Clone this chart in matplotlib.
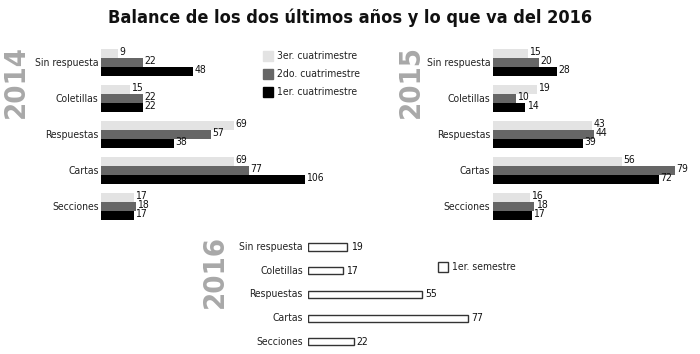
import matplotlib.pyplot as plt

plt.rcParams['font.family'] = 'DejaVu Sans'
plt.rcParams['font.stretch'] = 'condensed'

categorias = ["Sin respuesta", "Coletillas", "Respuestas", "Cartas", "Secciones"]
series = ["3er. cuatrimestre", "2do. cuatrimestre", "1er. cuatrimestre"]
colores = ["#e3e3e3", "#666666", "#000000"]

# 2014: 3er, 2do, 1er
v2014_3 = [9, 15, 69, 69, 17]
v2014_2 = [22, 22, 57, 77, 18]
v2014_1 = [48, 22, 38, 106, 17]

# 2015
v2015_3 = [15, 19, 43, 56, 16]
v2015_2 = [20, 10, 44, 79, 18]
v2015_1 = [28, 14, 39, 72, 17]

# 2016
v2016 = [19, 17, 55, 77, 22]

W, H = 700, 354
fig = plt.figure(figsize=(W / 100, H / 100), dpi=100)

FS = 7.5


def caja(l, t, w, h):
    # pixeles -> fraccion de figura
    return [l / W, 1 - (t + h) / H, w / W, h / H]


def anio_txt(x, y, s):
    fig.text(x / W, 1 - y / H, s, rotation=90, ha='center', va='center',
             fontsize=21, fontweight='bold', color='#a8a8a8')


def panel_cuatrimestres(x0, escala, xmax, datos, anio, x_anio):
    pitch = 36.0
    ymin, ymax = -0.6, 4.6
    top = 62.5 + ymin * pitch
    ax = fig.add_axes(caja(x0, top, xmax * escala, (ymax - ymin) * pitch))
    ax.set_xlim(0, xmax)
    ax.set_ylim(ymax, ymin)
    h = 0.25
    for k, vals in enumerate(datos):
        ys = [i + (k - 1) * h for i in range(len(vals))]
        ax.barh(ys, vals, height=h, color=colores[k], edgecolor='none')
        for y, v in zip(ys, vals):
            ax.text(v + 0.6, y - 0.04, str(v), va='center', ha='left',
                    fontsize=FS, color='#111111')
    for i, c in enumerate(categorias):
        ax.text(-1.2, i, c, ha='right', va='center', fontsize=FS,
                color='#222222')
    ax.axis('off')
    anio_txt(x_anio, 81, anio)
    return ax


panel_cuatrimestres(101, 1.925, 115, [v2014_3, v2014_2, v2014_1], "2014", 16)
panel_cuatrimestres(493, 2.30, 90, [v2015_3, v2015_2, v2015_1], "2015", 411)

# 2016
pitch = 23.7
ymin, ymax = -0.6, 4.6
top = 247 + ymin * pitch
esc = 2.078
ax3 = fig.add_axes(caja(308, top, 100 * esc, (ymax - ymin) * pitch))
ax3.set_xlim(0, 100)
ax3.set_ylim(ymax, ymin)
ax3.barh(range(5), v2016, height=0.3, color='white', edgecolor='#333333',
         linewidth=1.0)
for i, v in enumerate(v2016):
    ax3.text(v + 1.5, i, str(v), va='center', ha='left', fontsize=FS,
             color='#111111')
    ax3.text(-2.5, i, categorias[i], ha='right', va='center', fontsize=FS,
             color='#222222')
ax3.axis('off')
anio_txt(215, 272, "2016")

# leyendas
for k, s in enumerate(series):
    y = 56 + 18 * k
    fig.patches.append(plt.Rectangle((263 / W, 1 - (y + 5) / H), 10 / W, 10 / H,
                                     transform=fig.transFigure,
                                     color=colores[k]))
    fig.text(277 / W, 1 - y / H, s, ha='left', va='center', fontsize=FS,
             color='#222222')

fig.patches.append(plt.Rectangle((438 / W, 1 - 272 / H), 10 / W, 10 / H,
                                 transform=fig.transFigure, facecolor='white',
                                 edgecolor='#333333', linewidth=1.0))
fig.text(452 / W, 1 - 267 / H, "1er. semestre", ha='left', va='center',
         fontsize=FS, color='#222222')

fig.text(0.5, 1 - 18 / H, "Balance de los dos últimos años y lo que va del 2016",
         ha='center', va='center', fontsize=13, fontweight='bold', color='#111111')

fig.savefig("out.png", dpi=100, facecolor='white')
